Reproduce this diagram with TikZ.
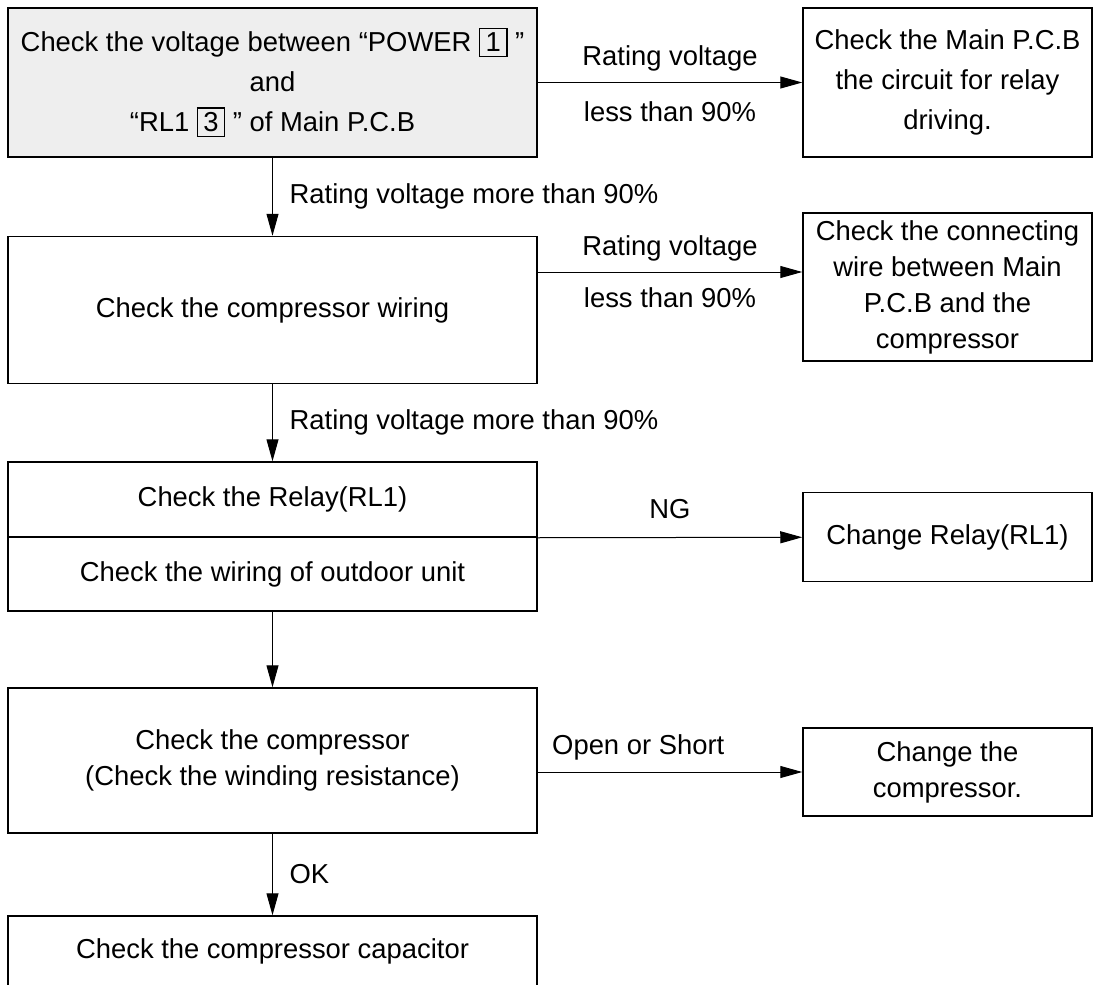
\documentclass[tikz,border=0pt]{standalone}
\usepackage{fontspec}
\setmainfont{Liberation Sans}
\usepackage{xcolor}
\usetikzlibrary{positioning,arrows.meta}
\definecolor{boxgray}{HTML}{EEEEEE}
\setlength{\fboxsep}{2pt}
\setlength{\fboxrule}{0.6pt}
\newcommand{\termbox}[1]{\fbox{\makebox[9pt]{#1}}}

\begin{document}
\begin{tikzpicture}[x=0.5pt,y=-0.5pt,
    every node/.style={font=\fontsize{13.7pt}{18pt}\selectfont},
    wide/.style={font=\fontsize{13.7pt}{20pt}\selectfont},
    box/.style={draw,line width=0.75pt,align=center,inner sep=0pt,minimum width=264.5pt},
    rbox/.style={draw,line width=0.75pt,align=center,inner sep=0pt,minimum width=144.5pt},
    arr/.style={-{Triangle[length=11pt,width=6pt]},line width=0.5pt}]
  \useasboundingbox (0,0) rectangle (1099,985);
  \clip (0,0) rectangle (1099,985);
  %左の列
  \node[box,wide,fill=boxgray,minimum height=74.5pt] (chkv) at (272.5,82.5) {Check the voltage between “POWER \termbox{1} ”\\and\\“RL1 \termbox{3} ” of Main P.C.B};
  \node[box,minimum height=73.5pt] (chkwire) at (272.5,310) {Check the compressor wiring};
  \node[box,minimum height=37.5pt] (chkrelay) at (272.5,499.5) {Check the Relay(RL1)};
  \node[box,minimum height=37pt] (chkunit) at (272.5,574) {Check the wiring of outdoor unit};
  \node[box,minimum height=72.5pt] (chkcomp) at (272.5,760.5) {Check the compressor\\(Check the winding resistance)};
  \node[box,minimum height=35.5pt] (chkcap) at (272.5,951.5) {Check the compressor capacitor};
  %右の列
  \node[rbox,wide,minimum height=74.5pt] (chkpcb) at (947.5,82.5) {Check the Main P.C.B\\the circuit for relay\\driving.};
  \node[rbox,minimum height=74pt] (chkconn) at (947.5,287) {Check the connecting\\wire between Main\\P.C.B and the\\compressor};
  \node[rbox,minimum height=44.5pt] (chgrelay) at (947.5,537) {Change Relay(RL1)};
  \node[rbox,minimum height=44pt] (chgcomp) at (947.5,772) {Change the\\compressor.};
  \coordinate (w2) at ([yshift=19pt]chkwire.east);

  \draw[arr] (chkv) -- (chkwire) node[midway,right=5pt]{Rating voltage more than 90\%};
  \draw[arr] (chkwire) -- (chkrelay) node[midway,right=5pt]{Rating voltage more than 90\%};
  \draw[arr] (chkunit) -- (chkcomp);
  \draw[arr] (chkcomp) -- (chkcap) node[midway,right=5pt]{OK};
  \draw[arr] (chkv) -- (chkpcb) node[midway,above=2pt]{Rating voltage} node[midway,below=6pt]{less than 90\%};
  \draw[arr] (w2) -- (w2 -| chkconn.west) node[midway,above=2pt]{Rating voltage} node[midway,below=4pt]{less than 90\%};
  \draw[arr] (chkrelay.south east) -- (chgrelay) node[midway,above=6pt]{NG};
  \draw[arr] (chkcomp.east |- chgcomp) -- (chgcomp) node[pos=0.38,above=2.5pt]{Open or Short};
\end{tikzpicture}
\end{document}
